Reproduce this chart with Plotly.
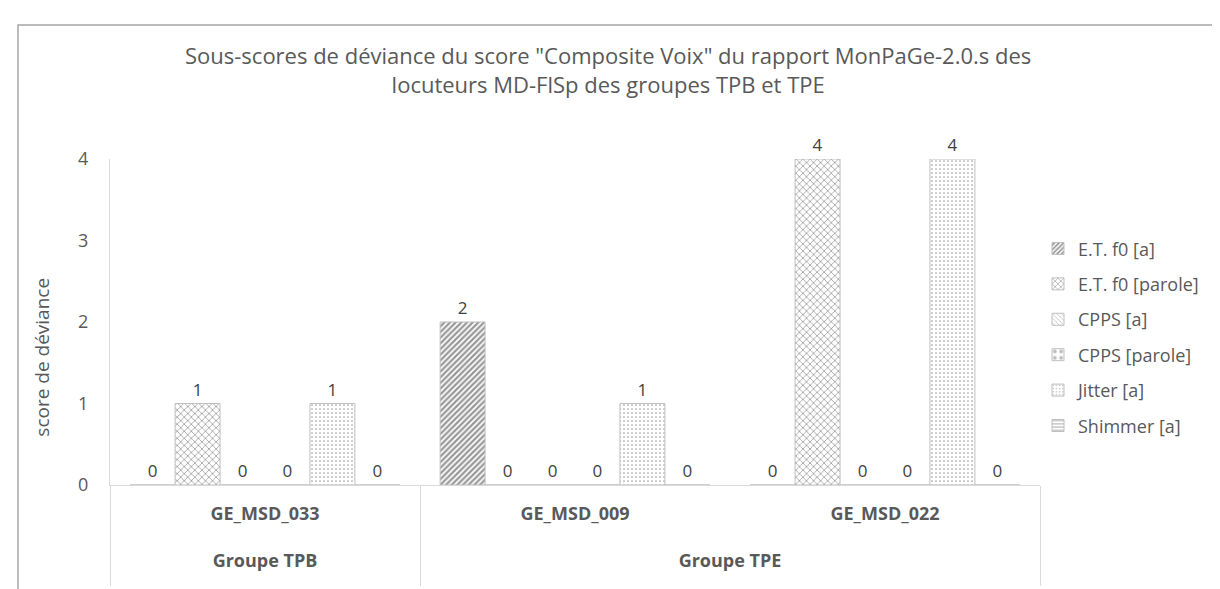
import plotly.graph_objects as go

groups = ["Groupe TPB", "Groupe TPE", "Groupe TPE"]
speakers = ["GE_MSD_033", "GE_MSD_009", "GE_MSD_022"]
series_names = ["E.T. f0 [a]", "E.T. f0 [parole]", "CPPS [a]", "CPPS [parole]", "Jitter [a]", "Shimmer [a]"]
et_f0_a = [0, 2, 0]
et_f0_parole = [1, 0, 4]
cpps_a = [0, 0, 0]
cpps_parole = [0, 0, 0]
jitter_a = [1, 1, 4]
shimmer_a = [0, 0, 0]
series_values = [et_f0_a, et_f0_parole, cpps_a, cpps_parole, jitter_a, shimmer_a]
y_ticks = [0, 1, 2, 3, 4]

title_text = 'Sous-scores de déviance du score "Composite Voix" du rapport MonPaGe-2.0.s des<br>locuteurs MD-FlSp des groupes TPB et TPE'
y_title = "score de déviance"

FONT = "Open Sans, Lato, sans-serif"
GREY = "#595959"
LINE = "#d9d9d9"

patterns = [
    dict(shape="/", fgcolor="#303030", bgcolor="white", size=4, solidity=0.55),
    dict(shape="x", fgcolor="#404040", bgcolor="white", size=5, solidity=0.3),
    dict(shape="\\", fgcolor="#7f7f7f", bgcolor="white", size=4, solidity=0.25),
    dict(shape=".", fgcolor="#7f7f7f", bgcolor="white", size=8, solidity=0.3),
    dict(shape=".", fgcolor="#404040", bgcolor="white", size=4, solidity=0.15),
    dict(shape="-", fgcolor="#595959", bgcolor="white", size=4, solidity=0.3),
]

W, H = 1220, 589
L, R, T, B = 102, 1032, 151, 494
pw, ph = R - L, B - T

# group centres and boundaries derived from the group list
group_names, group_centres, boundaries = [], [], [-0.5]
start = 0
for i in range(1, len(groups) + 1):
    if i == len(groups) or groups[i] != groups[start]:
        group_names.append(groups[start])
        group_centres.append((start + i - 1) / 2)
        boundaries.append(i - 0.5)
        start = i

fig = go.Figure()
for i, (name, vals) in enumerate(zip(series_names, series_values)):
    fig.add_trace(go.Bar(
        name=name,
        x=speakers,
        y=vals,
        legendgroup=f"g{i}",
        marker=dict(color="white", line=dict(color="#bfbfbf", width=1), pattern=patterns[i]),
        texttemplate="%{y}",
        textposition="outside",
        textfont=dict(family=FONT, size=17, color="#404040"),
        cliponaxis=False,
    ))

def px_x(x):
    return (x - L) / pw

def px_y(y):
    return 1 - (y - T) / ph

xrange = [-0.5, len(speakers) - 0.5]

fig.update_layout(
    width=W, height=H,
    margin=dict(l=L, r=W - R, t=T, b=H - B),
    paper_bgcolor="white", plot_bgcolor="white",
    barmode="group", bargap=0.13, bargroupgap=0,
    font=dict(family=FONT, color=GREY),
    showlegend=True,
    legend=dict(
        x=px_x(1030), xanchor="left", y=px_y(226), yanchor="top",
        font=dict(family=FONT, size=18, color=GREY),
        traceorder="grouped", tracegroupgap=9,
        bgcolor="rgba(0,0,0,0)",
    ),
    xaxis=dict(
        type="category", range=xrange,
        showline=True, linecolor=LINE, linewidth=1,
        showgrid=False, ticks="", zeroline=False,
        tickfont=dict(family=FONT, size=18, color=GREY, weight="bold"),
        ticklabelstandoff=12,
    ),
    xaxis2=dict(
        overlaying="x", anchor="y", side="bottom", range=xrange,
        tickmode="array", tickvals=group_centres, ticktext=group_names,
        showline=False, showgrid=False, ticks="", zeroline=False,
        tickfont=dict(family=FONT, size=18, color=GREY, weight="bold"),
        ticklabelstandoff=63,
    ),
    xaxis3=dict(
        overlaying="x", anchor="y", side="bottom", range=xrange,
        tickmode="array", tickvals=boundaries, showticklabels=False,
        showline=False, showgrid=False, zeroline=False,
        ticks="outside", ticklen=100, tickwidth=1, tickcolor=LINE,
    ),
    yaxis=dict(
        range=[0, 4], tickvals=y_ticks,
        showline=True, linecolor=LINE, linewidth=1,
        showgrid=False, zeroline=False, ticks="",
        tickfont=dict(family=FONT, size=18, color=GREY),
        ticklabelstandoff=17,
    ),
)
# invisible helper traces so the overlay axes are drawn
fig.add_trace(go.Scatter(x=[None], y=[None], xaxis="x2", showlegend=False, hoverinfo="skip"))
fig.add_trace(go.Scatter(x=[None], y=[None], xaxis="x3", showlegend=False, hoverinfo="skip"))

fig.add_annotation(
    text=title_text, xref="paper", yref="paper",
    x=px_x(600), y=px_y(57), xanchor="center", yanchor="middle",
    showarrow=False, font=dict(family=FONT, size=22, color=GREY),
)
fig.add_annotation(
    text=y_title, xref="paper", yref="paper",
    x=px_x(34), y=px_y(360), xanchor="center", yanchor="middle",
    textangle=-90, showarrow=False, font=dict(family=FONT, size=19, color=GREY),
)
fig.add_shape(
    type="rect", xref="paper", yref="paper",
    x0=px_x(10), x1=px_x(1240), y0=px_y(10), y1=px_y(610),
    line=dict(color="#a6a6a6", width=1.5), fillcolor="rgba(0,0,0,0)", layer="below",
)

fig.write_html("out.html")
